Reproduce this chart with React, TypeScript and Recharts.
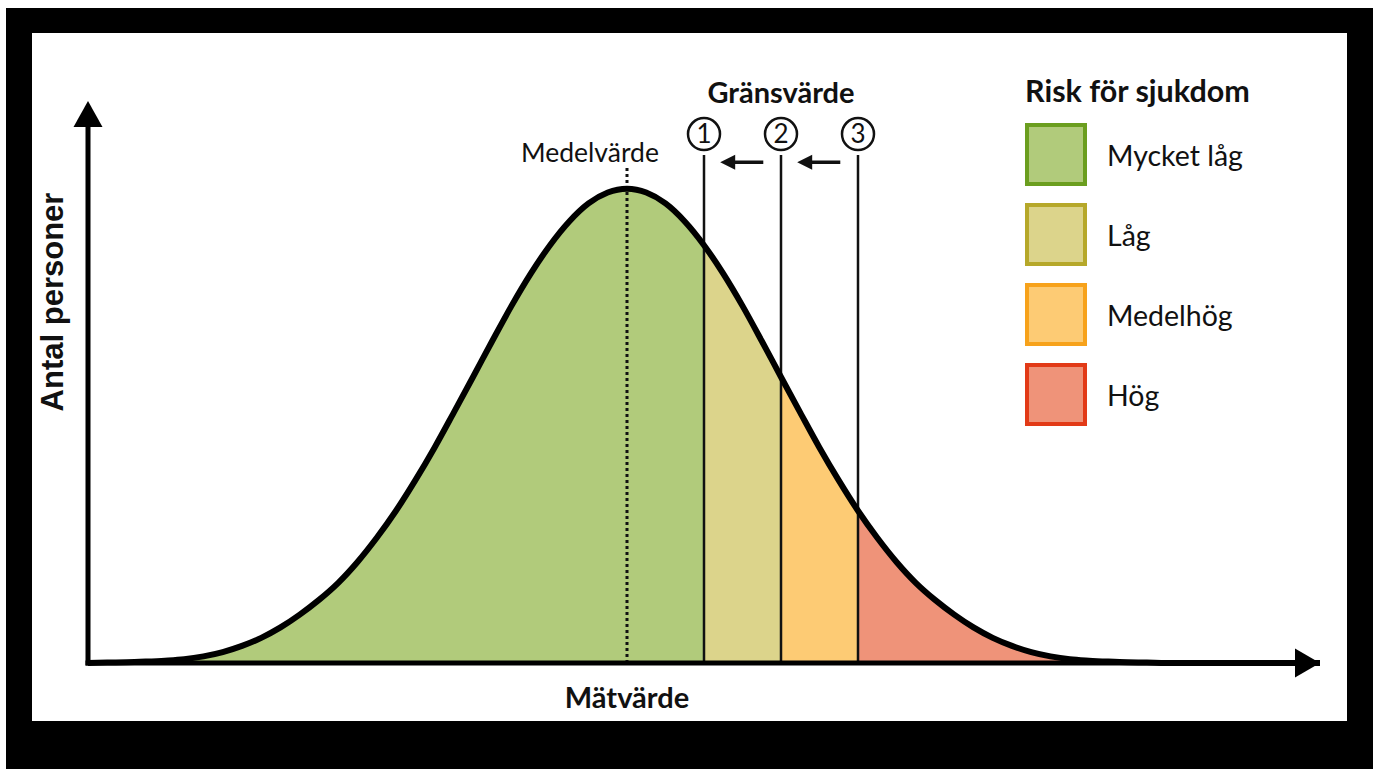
import { ComposedChart, Area, Line, XAxis, YAxis, ReferenceLine } from "recharts";

// Mätvärde (x) and antal personer (y). Mean at 0, peak = 100.
const matvarde = [
  -70, -67.5, -65, -62.5, -60, -57.5, -55, -52.5, -50, -47.5, -45, -42.5, -40, -37.5, -35, -32.5,
  -30, -27.5, -25, -22.5, -20, -17.5, -15, -12.5, -10, -7.5, -5, -2.5, 0, 2.5, 5, 7.5, 10, 12.5,
  15, 17.5, 20, 22.5, 25, 27.5, 30, 32.5, 35, 37.5, 40, 42.5, 45, 47.5, 50, 52.5, 55, 57.5, 60,
  62.5, 65, 67.5, 70, 72.5, 75, 77.5, 80, 82.5, 85, 87.5, 90,
];
const antalPersoner = [
  0, 0.1, 0.15, 0.3, 0.5, 0.8, 1.4, 2.3, 3.6, 5.3, 7.5, 10.2, 13.3, 16.9, 21.3, 26.4,
  32.1, 38.5, 45.4, 52.8, 60.3, 67.9, 75.3, 82.1, 88.1, 93.1, 96.9, 99.2, 100, 99.2, 96.9, 93.1, 88.1, 82.1,
  75.3, 67.9, 60.3, 52.8, 45.4, 38.5, 32.1, 26.4, 21.3, 16.9, 13.3, 10.2, 7.5, 5.3, 3.6, 2.3, 1.4, 0.8, 0.5,
  0.3, 0.15, 0.1, 0, 0, 0, 0, 0, 0, 0, 0, 0,
];
const medelvarde = 0;
const gransvarden = [10, 20, 30];
const gransEtiketter = ["1", "2", "3"];
const riskNivaer = ["Mycket låg", "Låg", "Medelhög", "Hög"];
const riskFyllning = ["#b1cb7b", "#dcd48b", "#fdcb74", "#ef9379"];
const riskKant = ["#6b9e1f", "#b6a82a", "#f7a21b", "#e23a17"];

const X_MIN = -70;
const X_MAX = 90;
const Y_MAX = 118.5;
const LINE_TOP = 107.1;
const MEAN_TOP = 104.6;
const ARROW_Y = 105.6;

const edges = [-Infinity, ...gransvarden, Infinity];
const rows = matvarde.map((x, i) => {
  const y = antalPersoner[i];
  const row: Record<string, number | null> = { x, antal: y };
  for (let s = 0; s < riskNivaer.length; s++) {
    row[`seg${s}`] = x >= edges[s] && x <= edges[s + 1] ? y : null;
  }
  return row;
});

const LABEL_FONT = "Lato, 'Open Sans', sans-serif";

// x-axis with arrowhead at the right end
const XAxisArrow = (p: any) => {
  const { x1, y1, x2 } = p;
  return (
    <g>
      <line x1={x1 - 2.5} y1={y1} x2={x2 - 20} y2={y1} stroke="#000" strokeWidth={5} />
      <polygon points={`${x2},${y1} ${x2 - 25},${y1 - 14.5} ${x2 - 25},${y1 + 14.5}`} fill="#000" />
    </g>
  );
};

// y-axis with arrowhead at the top
const YAxisArrow = (p: any) => {
  const { x1, y1, y2 } = p;
  return (
    <g>
      <line x1={x1} y1={y1 + 2.5} x2={x1} y2={y2 + 20} stroke="#000" strokeWidth={5} />
      <polygon points={`${x1},${y2} ${x1 - 14.5},${y2 + 26} ${x1 + 14.5},${y2 + 26}`} fill="#000" />
    </g>
  );
};

// threshold line with its circled number above
const thresholdShape = (label: string) => (p: any) => {
  const { x1, y1, y2 } = p;
  const top = Math.min(y1, y2);
  return (
    <g>
      <line x1={x1} y1={Math.max(y1, y2)} x2={x1} y2={top} stroke="#111" strokeWidth={2.5} />
      <circle cx={x1} cy={top - 21} r={16} fill="#fff" stroke="#111" strokeWidth={2.5} />
      <text x={x1} y={top - 12} textAnchor="middle" fontFamily={LABEL_FONT} fontSize={26} fill="#111">
        {label}
      </text>
    </g>
  );
};

// small left-pointing arrow between two threshold lines
const LeftArrow = (p: any) => {
  const { x1, y1, x2 } = p;
  const tip = Math.min(x1, x2);
  const tail = Math.max(x1, x2);
  return (
    <g>
      <line x1={tail} y1={y1} x2={tip + 10} y2={y1} stroke="#111" strokeWidth={3.5} />
      <polygon points={`${tip},${y1} ${tip + 15},${y1 - 7.5} ${tip + 15},${y1 + 7.5}`} fill="#111" />
    </g>
  );
};

export default function App() {
  return (
    <div style={{ position: "absolute", left: 6, top: 8, width: 1367, height: 761, background: "#000" }}>
      <div style={{ position: "absolute", left: 26, top: 25, width: 1315, height: 688, background: "#fff" }}>
        <ComposedChart
          width={1315}
          height={688}
          data={rows}
          margin={{ top: 68, right: 27, bottom: 58, left: 56 }}
        >
          <XAxis type="number" dataKey="x" domain={[X_MIN, X_MAX]} hide />
          <YAxis type="number" domain={[0, Y_MAX]} hide />
          {riskNivaer.map((_, s) => (
            <Area
              key={`seg${s}`}
              dataKey={`seg${s}`}
              type="monotone"
              stroke="none"
              fill={riskFyllning[s]}
              fillOpacity={1}
              connectNulls={false}
              isAnimationActive={false}
            />
          ))}
          <ReferenceLine
            segment={[{ x: medelvarde, y: 0 }, { x: medelvarde, y: MEAN_TOP }]}
            stroke="#111"
            strokeWidth={3}
            strokeDasharray="3 3"
            ifOverflow="visible"
          />
          {gransvarden.map((g, i) => (
            <ReferenceLine
              key={`g${i}`}
              segment={[{ x: g, y: 0 }, { x: g, y: LINE_TOP }]}
              shape={thresholdShape(gransEtiketter[i])}
              ifOverflow="visible"
            />
          ))}
          {gransvarden.slice(0, -1).map((g, i) => (
            <ReferenceLine
              key={`a${i}`}
              segment={[{ x: gransvarden[i + 1] - 2.3, y: ARROW_Y }, { x: g + 2.1, y: ARROW_Y }]}
              shape={LeftArrow}
              ifOverflow="visible"
            />
          ))}
          <Line
            dataKey="antal"
            type="monotone"
            stroke="#000"
            strokeWidth={6}
            dot={false}
            activeDot={false}
            isAnimationActive={false}
          />
          <ReferenceLine segment={[{ x: X_MIN, y: 0 }, { x: X_MAX, y: 0 }]} shape={XAxisArrow} ifOverflow="visible" />
          <ReferenceLine segment={[{ x: X_MIN, y: 0 }, { x: X_MIN, y: Y_MAX }]} shape={YAxisArrow} ifOverflow="visible" />
        </ComposedChart>

        <svg width={1315} height={688} style={{ position: "absolute", left: 0, top: 0, pointerEvents: "none" }}>
          <text
            x={0}
            y={0}
            transform="translate(31 269) rotate(-90)"
            textAnchor="middle"
            fontFamily="'Liberation Sans', Arial, sans-serif"
            fontWeight="bold"
            fontSize={31}
            fill="#111"
          >
            Antal personer
          </text>
          <text x={595} y={675} textAnchor="middle" fontFamily={LABEL_FONT} fontWeight="bold" fontSize={29} fill="#111">
            Mätvärde
          </text>
          <text x={558} y={129} textAnchor="middle" fontFamily={LABEL_FONT} fontSize={26.5} fill="#111">
            Medelvärde
          </text>
          <text x={749} y={70} textAnchor="middle" fontFamily={LABEL_FONT} fontWeight="bold" fontSize={29} fill="#111">
            Gränsvärde
          </text>
          <text x={993} y={69} fontFamily={LABEL_FONT} fontWeight="bold" fontSize={30.5} fill="#111">
            Risk för sjukdom
          </text>
          {riskNivaer.map((r, i) => (
            <g key={r}>
              <rect
                x={995}
                y={92 + i * 80}
                width={58}
                height={59}
                fill={riskFyllning[i]}
                stroke={riskKant[i]}
                strokeWidth={4}
              />
              <text x={1075} y={133 + i * 80} fontFamily={LABEL_FONT} fontSize={28.5} fill="#111">
                {r}
              </text>
            </g>
          ))}
        </svg>
      </div>
    </div>
  );
}
